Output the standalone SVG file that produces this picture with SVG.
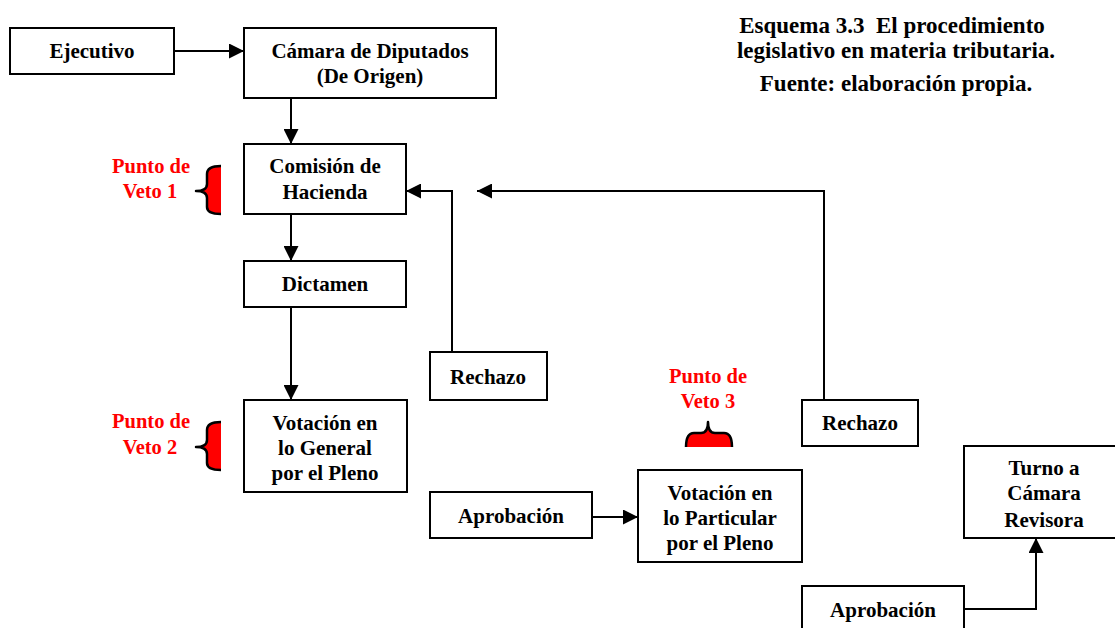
<svg xmlns="http://www.w3.org/2000/svg" width="1115" height="628" viewBox="0 0 1115 628">
<defs>
<style>
.box{fill:#fff;stroke:#000;stroke-width:2}
.t{font-family:"Liberation Serif","Times New Roman",serif;font-weight:bold;font-size:21px;fill:#000;text-anchor:middle}
.title{font-family:"Liberation Serif","Times New Roman",serif;font-weight:bold;font-size:23px;fill:#000;text-anchor:middle}
.red{font-family:"Liberation Serif","Times New Roman",serif;font-weight:bold;font-size:20.5px;fill:#ff0000;text-anchor:middle}
.c{fill:none;stroke:#000;stroke-width:2}
.bf{fill:#ff0000;stroke:none}
.bs{fill:none;stroke:#000;stroke-width:2.5;stroke-linejoin:round}
</style>
<marker id="ah" viewBox="0 0 10 10" refX="10" refY="5" markerWidth="15" markerHeight="15" markerUnits="userSpaceOnUse" orient="auto">
<path d="M0,0 L10,5 L0,10 z" fill="#000"/>
</marker>
</defs>
<rect width="1115" height="628" fill="#fff"/>

<g id="title">
<text class="title" x="892" y="33">Esquema 3.3&#160; El procedimiento</text>
<text class="title" x="896" y="58">legislativo en materia tributaria.</text>
<text class="title" x="896" y="91">Fuente: elaboración propia.</text>
</g>

<g id="connectors">
<line class="c" x1="174" y1="51" x2="244" y2="51" marker-end="url(#ah)"/>
<line class="c" x1="291" y1="98" x2="291" y2="144" marker-end="url(#ah)"/>
<line class="c" x1="291" y1="214" x2="291" y2="261" marker-end="url(#ah)"/>
<line class="c" x1="291" y1="307" x2="291" y2="400" marker-end="url(#ah)"/>
<polyline class="c" points="452,352 452,191 406,191" marker-end="url(#ah)"/>
<polyline class="c" points="824,400 824,191 477,191" marker-end="url(#ah)"/>
<line class="c" x1="592" y1="517" x2="638" y2="517" marker-end="url(#ah)"/>
<polyline class="c" points="964,609 1036,609 1036,538" marker-end="url(#ah)"/>
</g>

<g id="ejecutivo">
<rect class="box" x="10" y="28" width="164" height="46"/>
<text class="t" x="92" y="58">Ejecutivo</text>
</g>
<g id="camara-origen">
<rect class="box" x="244" y="28" width="252" height="70"/>
<text class="t" x="370" y="58">Cámara de Diputados</text>
<text class="t" x="370" y="83">(De Origen)</text>
</g>
<g id="comision">
<rect class="box" x="244" y="144" width="162" height="70"/>
<text class="t" x="325" y="173">Comisión de</text>
<text class="t" x="325" y="199">Hacienda</text>
</g>
<g id="dictamen">
<rect class="box" x="244" y="261" width="162" height="46"/>
<text class="t" x="325" y="291">Dictamen</text>
</g>
<g id="votacion-general">
<rect class="box" x="244" y="400" width="163" height="92"/>
<text class="t" x="325" y="430">Votación en</text>
<text class="t" x="325" y="455">lo General</text>
<text class="t" x="325" y="480">por el Pleno</text>
</g>
<g id="rechazo1">
<rect class="box" x="430" y="352" width="117" height="48"/>
<text class="t" x="488" y="384">Rechazo</text>
</g>
<g id="rechazo2">
<rect class="box" x="802" y="400" width="116" height="46"/>
<text class="t" x="860" y="430">Rechazo</text>
</g>
<g id="aprobacion1">
<rect class="box" x="430" y="492" width="162" height="46"/>
<text class="t" x="511" y="523">Aprobación</text>
</g>
<g id="votacion-particular">
<rect class="box" x="638" y="470" width="164" height="92"/>
<text class="t" x="720" y="500">Votación en</text>
<text class="t" x="720" y="525">lo Particular</text>
<text class="t" x="720" y="550">por el Pleno</text>
</g>
<g id="turno">
<rect class="box" x="964" y="446" width="160" height="92"/>
<text class="t" x="1044" y="475">Turno a</text>
<text class="t" x="1044" y="500">Cámara</text>
<text class="t" x="1044" y="527">Revisora</text>
</g>
<g id="aprobacion2">
<rect class="box" x="802" y="586" width="162" height="60"/>
<text class="t" x="883" y="617">Aprobación</text>
</g>

<g id="veto1">
<text class="red" x="151" y="173">Punto de</text>
<text class="red" x="150" y="198">Veto 1</text>
<path class="bf" d="M221,166 Q207,166 207,174 L207,184 Q207,191 196,191 Q207,191 207,198 L207,207 Q207,214 221,214 Z"/>
<path class="bs" d="M221,166 Q207,166 207,174 L207,184 Q207,191 196,191 Q207,191 207,198 L207,207 Q207,214 221,214"/>
</g>
<g id="veto2">
<text class="red" x="151" y="428">Punto de</text>
<text class="red" x="150" y="454">Veto 2</text>
<path class="bf" d="M221,422 Q207,422 207,430 L207,440 Q207,447 196,447 Q207,447 207,454 L207,463 Q207,470 221,470 Z"/>
<path class="bs" d="M221,422 Q207,422 207,430 L207,440 Q207,447 196,447 Q207,447 207,454 L207,463 Q207,470 221,470"/>
</g>
<g id="veto3">
<text class="red" x="708" y="383">Punto de</text>
<text class="red" x="708" y="408">Veto 3</text>
<path class="bf" d="M686,447 Q686,433 694,433 L701,433 Q708,433 708,422 Q708,433 715,433 L724,433 Q732,433 732,447 Z"/>
<path class="bs" d="M686,447 Q686,433 694,433 L701,433 Q708,433 708,422 Q708,433 715,433 L724,433 Q732,433 732,447"/>
</g>
</svg>
